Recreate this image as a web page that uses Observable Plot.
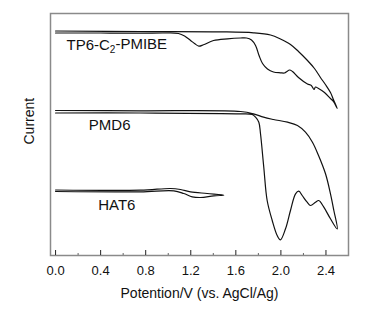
<!DOCTYPE html>
<html>
<head>
<meta charset="utf-8">
<script src="https://cdn.jsdelivr.net/npm/d3@7"></script>
<script src="https://cdn.jsdelivr.net/npm/@observablehq/plot@0.6"></script>
<style>
  html, body { margin: 0; padding: 0; background: #fff; }
  #chart svg { font-family: "Liberation Sans", Arial, sans-serif; }
</style>
</head>
<body>
<div id="chart"></div>
<script>
// Potential (V vs. AgCl/Ag) and current (arbitrary units, offset per trace)
const tp6V = [0, 0.754, 1.464, 1.757, 1.908, 1.996, 2.085, 2.156, 2.236, 2.298, 2.351, 2.395, 2.44, 2.466, 2.50,
  2.466, 2.44, 2.387, 2.334, 2.307, 2.294, 2.27, 2.236, 2.156, 2.103, 2.076, 2.054, 2.032, 1.996, 1.934, 1.881, 1.837,
  1.806, 1.775, 1.739, 1.695, 1.642, 1.526, 1.402, 1.313, 1.272, 1.233, 1.198, 1.145, 1.091, 0.976, 0.754, 0.399, 0];
const tp6I = [22.45, 22.4, 22.37, 22.27, 22.05, 21.65, 21.1, 20.4, 19.5, 18.7, 17.8, 17.1, 16.3, 15.6, 14.7,
  15.4, 15.7, 16.3, 16.7, 16.85, 16.6, 17.0, 17.15, 17.8, 18.4, 18.55, 18.4, 18.25, 18.27, 18.35, 18.65, 19.2,
  20.0, 21.0, 21.55, 21.75, 21.75, 21.67, 21.5, 21.07, 20.93, 21.2, 21.5, 21.95, 22.2, 22.25, 22.23, 22.25, 22.25];

const pmd6V = [0, 0.754, 1.642, 1.757, 1.846, 1.934, 2.059, 2.147, 2.218, 2.28, 2.334, 2.396, 2.44, 2.47, 2.50,
  2.44, 2.381, 2.336, 2.307, 2.263, 2.233, 2.189, 2.159, 2.13, 2.085, 2.041, 1.996, 1.967, 1.923, 1.878, 1.848,
  1.819, 1.804, 1.775, 1.745, 1.642, 0.754, 0];
const pmd6I = [14.5, 14.47, 14.4, 14.17, 13.83, 13.6, 13.33, 13.0, 12.33, 11.33, 10.0, 8.17, 6.17, 4.5, 2.65,
  3.67, 4.83, 5.5, 5.33, 5.0, 5.33, 6.0, 6.43, 6.17, 4.5, 2.67, 1.57, 2.0, 3.5, 5.5, 8.83,
  12.17, 13.33, 13.83, 14.1, 14.17, 14.25, 14.25];

const hat6V = [0, 0.754, 1.02, 1.109, 1.198, 1.346, 1.493, 1.405, 1.287, 1.213, 1.138, 1.05, 0.754, 0];
const hat6I = [6.55, 6.53, 6.7, 6.6, 6.37, 6.2, 6.03, 5.97, 5.8, 5.87, 6.2, 6.47, 6.37, 6.4];

const seriesNames = ["TP6-C2-PMIBE", "PMD6", "HAT6"];
const labelV = [0.097, 0.295, 0.378];
const labelI = [21.03, 13.0, 5.03];

const majorTicks = [0, 0.4, 0.8, 1.2, 1.6, 2.0, 2.4];
const minorTicks = [0.2, 0.6, 1.0, 1.4, 1.8, 2.2];
const xTitle = "Potention/V (vs. AgCl/Ag)";
const yTitle = "Current";

const traces = [[tp6V, tp6I], [pmd6V, pmd6I], [hat6V, hat6I]];
const rows = [];
traces.forEach(([vs, is], k) => vs.forEach((v, i) => rows.push({name: seriesNames[k], V: v, I: is[i]})));
const labels = seriesNames.map((n, k) => ({name: n, V: labelV[k], I: labelI[k]}));

const chart = Plot.plot({
  width: 373,
  height: 312,
  marginLeft: 50,
  marginRight: 25,
  marginTop: 13,
  marginBottom: 57,
  style: {fontFamily: '"Liberation Sans", Arial, sans-serif', background: "#fff", color: "#111"},
  x: {domain: [-0.045, 2.6]},
  y: {domain: [0, 24.2], axis: null},
  marks: [
    Plot.frame({stroke: "#8a8a8a", strokeWidth: 1.5}),
    Plot.axisX({ticks: majorTicks, tickSize: 5, dy: -5, tickFormat: () => "", label: null, stroke: "#222"}),
    Plot.axisX({ticks: minorTicks, tickSize: 2, dy: -2, tickFormat: () => "", label: null, stroke: "#666"}),
    Plot.axisX({ticks: majorTicks, tickSize: 0, tickPadding: 10, tickFormat: d => d.toFixed(1), label: null, fontSize: 13, fill: "#111"}),
    Plot.line(rows, {x: "V", y: "I", z: "name", stroke: "#111", strokeWidth: 1.2, curve: "catmull-rom"}),
    Plot.text(labels, {x: "V", y: "I", text: "name", textAnchor: "start", fontSize: 15, fill: "#111"}),
    Plot.text([xTitle], {frameAnchor: "bottom", dy: 42, text: d => d, fontSize: 14, fill: "#111"}),
    Plot.text([yTitle], {frameAnchor: "left", dx: -21, dy: 10, rotate: -90, text: d => d, fontSize: 14, fill: "#111"})
  ]
});

// subscript the "2" in TP6-C2-PMIBE
chart.querySelectorAll("text").forEach(t => {
  if (t.textContent === "TP6-C2-PMIBE") {
    const ns = "http://www.w3.org/2000/svg";
    t.textContent = "";
    const a = document.createElementNS(ns, "tspan"); a.textContent = "TP6-C";
    const b = document.createElementNS(ns, "tspan"); b.textContent = "2";
    b.setAttribute("dy", "0.3em"); b.setAttribute("font-size", "10");
    const c = document.createElementNS(ns, "tspan"); c.textContent = "-PMIBE";
    c.setAttribute("dy", "-0.3em");
    t.append(a, b, c);
  }
});

document.getElementById("chart").append(chart);
</script>
</body>
</html>
